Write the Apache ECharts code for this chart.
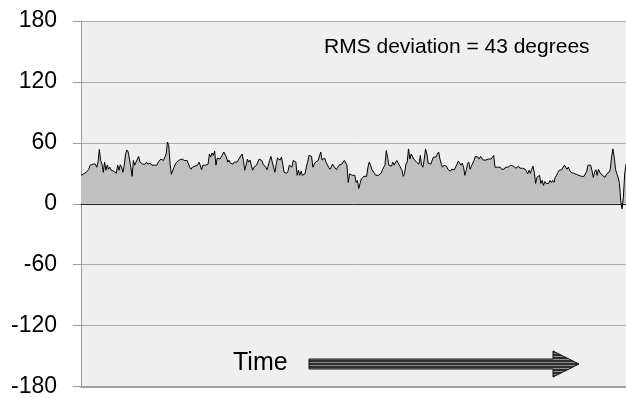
<!DOCTYPE html>
<html><head><meta charset="utf-8">
<script src="https://cdn.jsdelivr.net/npm/echarts@6/dist/echarts.min.js"></script>
<style>html,body{margin:0;padding:0;background:#fff}#c{width:626px;height:398px}</style>
</head><body><div id="c"></div>
<script>
const yTicks = [-180, -120, -60, 0, 60, 120, 180];
const annotationText = 'RMS deviation = 43 degrees';
const axisTitle = 'Time';

const devPart1 = [28, 28.5, 29.5, 29.5, 31, 31, 34, 38, 39.6, 39, 38, 39, 36, 41, 53.5, 42.6, 39, 31, 41, 33, 38, 34, 36, 33, 34, 32, 33, 30, 38, 33, 38.4, 36, 31, 38, 49, 53, 51, 44, 36, 27, 42.6, 38, 41, 42.6, 46.6, 41, 42.6, 39, 40, 39, 41, 39, 39, 40, 38, 39, 38, 39, 38, 41, 42, 44, 43, 42.6, 46, 49, 60.7, 57, 39, 29, 30, 36, 39, 41, 40, 43, 42.6, 44, 45, 42.6, 44, 42.6, 43];
const devPart2 = [36, 34, 36, 35, 37, 36, 38, 41, 38, 33.5, 38, 37, 38, 37, 39, 49, 46, 50, 47.6, 52, 38, 45, 46.6, 44, 46, 47.6, 51, 52, 46, 41, 43, 40, 41, 39, 41, 42, 41, 43, 45, 44, 49, 42.6, 33, 38, 44, 41, 43, 38, 33, 36, 37, 38, 41, 44, 45, 42.6, 39, 38, 36, 33.5, 34, 42.6, 46.6, 41, 36, 31, 39, 45, 46.6, 43, 46, 39, 31, 30, 30, 32, 38, 37, 36, 42.6, 44, 41, 28, 33, 28, 32, 28, 29.5];
const devPart3 = [29.5, 36, 41, 47.6, 47.6, 46.6, 36, 39, 41, 42, 42.6, 42.6, 51, 43, 44, 45, 41, 40, 36, 34, 36, 39, 37, 38, 33.5, 36, 38, 38, 39, 39, 42.6, 41, 38, 21, 29.5, 30, 28, 29, 28, 21, 23, 15, 20, 24.6, 26, 27, 26, 27, 36, 41, 38, 34, 33, 30, 28, 27, 28, 29, 30, 33, 36, 38, 52.5, 46, 38, 39, 37, 41, 38, 39, 42.6, 44, 38, 37, 33, 27, 30, 39, 41, 54, 44, 49, 47.6];
const devPart4 = [44, 45, 41, 42, 39, 47.6, 38, 36, 44, 54, 49, 40, 39, 39, 39, 46, 47.6, 46, 49, 51, 44, 39, 36, 38, 39, 37, 34, 33, 32, 34, 34, 33.5, 34, 39, 42, 42.6, 38, 40, 36, 28, 33, 39, 41, 34, 37, 36, 42.6, 46.6, 45, 46, 44, 46.6, 47.6, 43, 44, 43, 44, 44, 44.5, 44, 45, 47.6, 36, 35, 36, 35, 36, 34, 35, 34, 36, 35, 36, 37, 38, 39, 37, 36, 35, 36, 37, 35, 34];
const devPart5 = [35, 33.5, 34, 32, 29.5, 33, 30, 34, 37, 31, 20, 26, 24.6, 28, 20, 23, 18, 22, 20, 21, 20, 23, 21, 23, 21, 26, 28, 31, 33, 34, 33.5, 36, 38, 39, 34, 36, 33, 31, 32, 30, 29.5, 29, 29, 28, 28, 27, 27, 27, 28, 32, 38, 39, 38, 33, 26, 31, 33.5, 28, 34, 31, 29.5, 28, 27, 26, 29, 30, 31, 34, 46, 54, 46, 34, 29.5, 26, 20, 3, -5, 6.5, 29.5, 39];

const angleDeviation = [].concat(devPart1, devPart2, devPart3, devPart4, devPart5);
const timeSteps = angleDeviation.map((_, i) => i + 1);

// striped fill for the arrow
const stripe = document.createElement('canvas');
stripe.width = 4; stripe.height = 3;
const sc = stripe.getContext('2d');
sc.fillStyle = '#2e2e2e'; sc.fillRect(0, 0, 4, 3);
sc.fillStyle = '#8c8c8c'; sc.fillRect(0, 2, 4, 1);

const FONT = '"Liberation Sans", Arial, sans-serif';
const chart = echarts.init(document.getElementById('c'), null, { renderer: 'canvas' });
chart.setOption({
  animation: false,
  backgroundColor: '#ffffff',
  textStyle: { fontFamily: FONT },
  grid: { left: 81, right: 0, top: 21, bottom: 9, show: true, backgroundColor: '#efefef', borderWidth: 0 },
  xAxis: [
    {
      type: 'category', data: timeSteps, boundaryGap: false,
      axisLine: { onZero: true, lineStyle: { color: '#222', width: 1 } },
      axisTick: { show: false }, axisLabel: { show: false }, splitLine: { show: false }
    },
    {
      type: 'value', min: 0, max: 1, position: 'bottom',
      axisLine: { onZero: false, lineStyle: { color: '#a0a0a0', width: 2 } },
      axisTick: { show: false }, axisLabel: { show: false }, splitLine: { show: false }
    }
  ],
  yAxis: {
    type: 'value', min: yTicks[0], max: yTicks[yTicks.length - 1], interval: 60,
    axisLine: { show: true, onZero: false, lineStyle: { color: '#999', width: 1 } },
    axisTick: { show: true, length: 8, lineStyle: { color: '#999' } },
    axisLabel: { fontSize: 23, color: '#000', margin: 24, fontFamily: FONT },
    splitLine: { show: true, lineStyle: { color: '#aaaaaa', width: 1 } }
  },
  series: [{
    type: 'line', xAxisIndex: 0, data: angleDeviation, symbol: 'none',
    lineStyle: { color: '#000', width: 1 },
    areaStyle: { color: '#c0c0c0', opacity: 1 },
    z: 3
  }],
  graphic: [
    { type: 'text', x: 324, y: 47, z: 10,
      style: { text: annotationText, font: '21px ' + FONT, fill: '#000', verticalAlign: 'middle', align: 'left' } },
    { type: 'text', x: 233, y: 363, z: 10,
      style: { text: axisTitle, font: '25px ' + FONT, fill: '#000', verticalAlign: 'middle', align: 'left' } },
    { type: 'polygon', z: 10,
      shape: { points: [[309, 359], [553, 359], [553, 351], [579, 364], [553, 377], [553, 369], [309, 369]] },
      style: { fill: { image: stripe, repeat: 'repeat' }, stroke: '#111', lineWidth: 1 } }
  ]
});
</script>
</body></html>
